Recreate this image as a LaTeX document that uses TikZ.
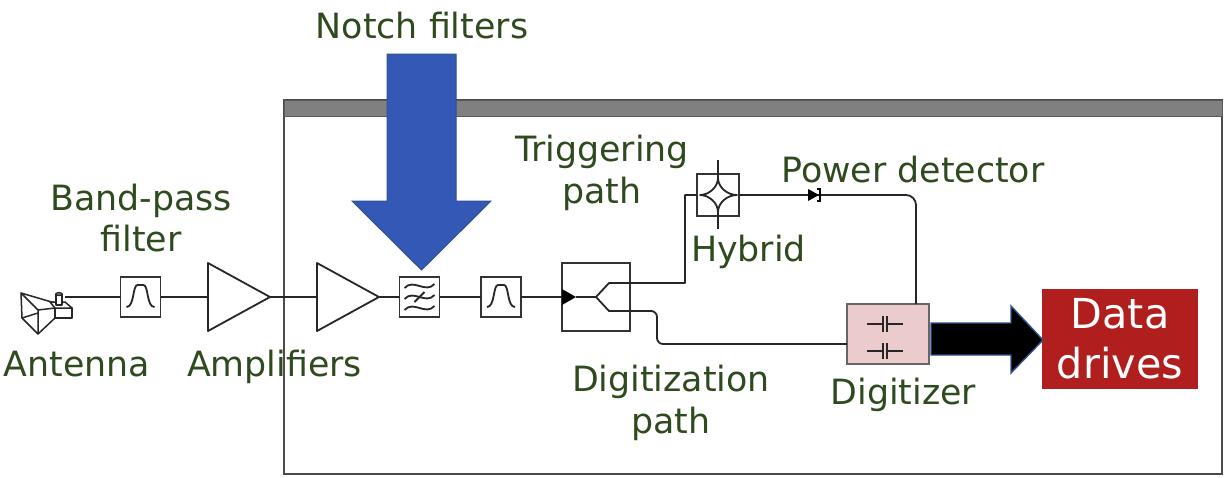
\documentclass[tikz,border=0pt]{standalone}
\usepackage{fontspec}
\setmainfont{DejaVu Sans}
\usetikzlibrary{calc}
\definecolor{labelgreen}{HTML}{2F4A1E}
\definecolor{notchblue}{HTML}{3358B5}
\definecolor{edgeblue}{HTML}{2F528F}
\definecolor{drivered}{HTML}{B01E1E}
\definecolor{digipink}{HTML}{EBCBCB}
\tikzset{
  wire/.style={draw=black!85,line width=1.8pt,line join=round},
  filterbox/.style={draw=black!80,line width=1.8pt,fill=white,minimum size=40pt,inner sep=0pt,outer sep=0pt},
  lab/.style={text=labelgreen,font=\fontsize{34.8}{41.5}\selectfont,align=center,inner sep=0pt},
}
\newcommand{\bandpass}[1]{\draw[wire] ($(#1)+(-14,10)$) .. controls ($(#1)+(-6,10)$) and ($(#1)+(-8,-12)$) .. ($(#1)+(-3,-12)$) -- ($(#1)+(3,-12)$) .. controls ($(#1)+(8,-12)$) and ($(#1)+(6,10)$) .. ($(#1)+(14,10)$);}
\newcommand{\wavy}[2]{\draw[wire] ($(#1)+(-15,#2+2)$) .. controls ($(#1)+(-6,#2-8)$) and ($(#1)+(6,#2+8)$) .. ($(#1)+(15,#2-2)$);}
\newcommand{\capac}[1]{\draw[wire] ($(#1)+(-18,0)$) -- ($(#1)+(-2,0)$) ($(#1)+(-2,-8)$) -- ($(#1)+(-2,8)$) ($(#1)+(2,-8)$) -- ($(#1)+(2,8)$) ($(#1)+(2,0)$) -- ($(#1)+(18,0)$);}
\begin{document}
\begin{tikzpicture}[x=1pt,y=-1pt]
  \useasboundingbox (0,0) rectangle (1228,477);

  % enclosure
  \draw[draw=black!70,line width=1.4pt] (284,100) rectangle (1222,474);
  \draw[draw=black!65,fill=black!50,line width=1pt] (284,100) rectangle (1222,116);

  % signal chain
  \coordinate (feed) at (65,297);
  \coordinate (amp1in) at (208,297);
  \coordinate (amp1out) at (270,297);
  \coordinate (amp2in) at (317,297);
  \coordinate (amp2out) at (379,297);
  \node[filterbox] (bpf1) at (140.5,297) {};
  \node[filterbox] (notch) at (419.5,297) {};
  \node[filterbox] (bpf2) at (501,297) {};
  \node[draw=black!80,line width=1.8pt,minimum width=68pt,minimum height=68pt,inner sep=0pt,outer sep=0pt] (split) at (596,297) {};
  \node[draw=black!80,line width=1.8pt,minimum size=42pt,inner sep=0pt,outer sep=0pt] (hybrid) at (718,195) {};
  \node[draw=black!60,fill=digipink,line width=2pt,minimum width=82pt,minimum height=60pt,inner sep=0pt,outer sep=0pt] (digitizer) at (888,334) {};
  \node[fill=drivered,text=white,minimum width=156pt,minimum height=100pt,inner sep=0pt,align=center,font=\fontsize{41.3}{50}\selectfont] (drives) at (1120,339) {Data\\drives};

  \draw[wire] (feed) -- (bpf1);
  \draw[wire] (bpf1) -- (amp1in);
  \draw[wire] (amp1out) -- (amp2in);
  \draw[wire] (amp2out) -- (notch);
  \draw[wire] (notch) -- (bpf2);
  \draw[wire] (bpf2) -- (split.west);

  \draw[wire,fill=white] (208,263) -- (270,297) -- (208,331) -- cycle;
  \draw[wire,fill=white] (317,263) -- (379,297) -- (317,331) -- cycle;
  \bandpass{bpf1}
  \bandpass{bpf2}
  \wavy{notch}{-11}
  \wavy{notch}{0}
  \wavy{notch}{11}
  \draw[wire] ($(notch)+(-5,5)$) -- ($(notch)+(5,-5)$);

  % antenna
  \draw[wire,line width=1.5pt,fill=white] (21,293) -- (55,303) -- (55,318) -- (38,334) -- (22,318) -- cycle;
  \draw[wire,line width=1.5pt] (38,310) -- (38,334) (22,318) -- (38,313) (21,293) -- (38,310) -- (55,308);
  \draw[wire,line width=1.5pt,fill=white] (55,308) rectangle (72,318);
  \draw[wire,line width=1.5pt,fill=white] (50,302) -- (65,302) -- (72,308) -- (55,308) -- cycle;
  \draw[wire,line width=1.5pt,fill=white] (56,294) rectangle (62,305);
  \draw[wire,line width=1.2pt,fill=black!50] (59,294) ellipse (3pt and 1.5pt);

  % splitter
  \fill[black] (562,289) -- (576,297) -- (562,305) -- cycle;
  \coordinate (fork) at (596,297);
  \draw[wire] (576,297) -- (fork) -- (609,283) -- (685,283) -- (685,195) -- (hybrid.west);
  \draw[wire] (fork) -- (609,311) -- (652,311);
  \draw[wire,rounded corners=6pt] (652,311) -- (657,311) -- (657,344) -- (digitizer.west |- 0,344);

  % hybrid
  \draw[wire] (718,160) -- (718,178) (718,212) -- (718,229);
  \draw[wire] (718,178) .. controls (718,187) and (709,195) .. (700,195)
    .. controls (709,195) and (718,203) .. (718,212)
    .. controls (718,203) and (727,195) .. (737,195)
    .. controls (727,195) and (718,187) .. (718,178);

  % power detector
  \coordinate (diode) at (808,195);
  \draw[wire,rounded corners=10pt] (hybrid.east) -- (916,195) -- (916,304);
  \fill[black] (808,189) -- (819,195) -- (808,201) -- cycle;
  \draw[black,line width=1.2pt] (817,189) -- (820,189) -- (820,201) -- (817,201);

  % digitizer
  \capac{885,324}
  \capac{885,351}

  % big arrows
  \draw[draw=edgeblue,fill=notchblue,line width=1pt] (387,54) -- (456,54) -- (456,201) -- (491,201) -- (421.5,270) -- (352,201) -- (387,201) -- cycle;
  \draw[draw=edgeblue,fill=black,line width=1.4pt] (931,323) -- (1011,323) -- (1011,306) -- (1043,340) -- (1011,373) -- (1011,355) -- (931,355) -- cycle;

  % labels
  \node[lab] (notchlab) at (422,26) {Notch filters};
  \node[lab] (bpflab) at (141,218) {Band-pass\\filter};
  \node[lab] (antlab) at (77,364) {Antenna};
  \node[lab] (amplab) at (274.5,367) {Amplifiers};
  \node[lab] (triglab) at (602,173) {Triggering\\path};
  \node[lab] (hyblab) at (748.5,252) {Hybrid};
  \node[lab] (powlab) at (913,170) {Power detector};
  \node[lab] (digilab) at (671,403) {Digitization\\path};
  \node[lab] (digtlab) at (903.5,395) {Digitizer};
\end{tikzpicture}
\end{document}
